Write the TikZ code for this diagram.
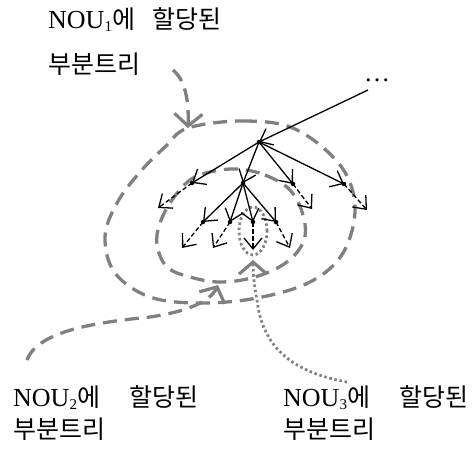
\documentclass[tikz,border=0pt]{standalone}
\usepackage{fontspec}
\setmainfont{Liberation Serif}
\newfontfamily\kr{Noto Sans CJK KR}
\newfontfamily\lat{Liberation Serif}
\usetikzlibrary{arrows.meta}
\definecolor{gcol}{RGB}{128,128,128}
\newcommand\lsub[1]{\raisebox{-3pt}{\fontsize{15}{15}\selectfont\lat #1}}
\newcommand\latbig{\fontsize{26}{30}\selectfont\lat}
\newcommand\krbig{\fontsize{25}{29}\selectfont\kr}
\begin{document}
\begin{tikzpicture}[x=1pt,y=-1pt,
  dot/.style={circle,fill=black,inner sep=0pt,minimum size=4.5pt},
  tree/.style={line width=1.3pt,-{Straight Barb[length=11pt,width=18pt,line width=1.3pt]}},
  subarr/.style={tree,dash pattern=on 4.5pt off 2.5pt},
  gdash/.style={draw=gcol,line width=3.3pt,dash pattern=on 14pt off 8pt},
  gdot/.style={draw=gcol,line width=2.8pt,dash pattern=on 2.5pt off 2.7pt},
  garrow/.style={-{Straight Barb[length=12pt,width=28pt,line width=3.2pt]}},
  lbl/.style={anchor=base west,inner sep=0pt}]
\useasboundingbox (0,0) rectangle (474,451);

% labels
\node[lbl] (l1a) at (48,28)  {\latbig NOU\lsub{1}{\krbig 에}};
\node[lbl] (l1b) at (152,28) {\krbig 할당된};
\node[lbl] (l1c) at (48,73)  {\krbig 부분트리};
\node[lbl] (l2a) at (13,406) {\latbig NOU\lsub{2}{\krbig 에}};
\node[lbl] (l2b) at (129,406) {\krbig 할당된};
\node[lbl] (l2c) at (13,438) {\krbig 부분트리};
\node[lbl] (l3a) at (283,406) {\latbig NOU\lsub{3}{\krbig 에}};
\node[lbl] (l3b) at (399,406) {\krbig 할당된};
\node[lbl] (l3c) at (283,438) {\krbig 부분트리};

% gray loops
\draw[gdash] plot[smooth cycle, tension=0.6] coordinates {
  (188,128) (243,121) (295,129) (340,165) (355,207) (343,253) (310,282)
  (257,298) (200,303) (150,297) (115,273) (105,237) (117,203) (140,172) (166,146)};
\draw[gdash] plot[smooth cycle, tension=0.6] coordinates {
  (237,169) (265,175) (290,190) (303,215) (304,240) (287,262) (255,277)
  (220,282) (190,277) (167,267) (157,245) (160,223) (172,200) (190,180) (210,172)};
\draw[gdot] (253,231) ellipse [x radius=14pt, y radius=24pt];

% label connectors
\coordinate (n1s) at (173,70);
\coordinate (n1e) at (188,128);
\coordinate (n2s) at (27,360);
\coordinate (n2m) at (150,317);
\coordinate (n2e) at (218,285);
\coordinate (n3s) at (347,382);
\coordinate (n3m) at (257,300);
\coordinate (n3e) at (253,260);
\draw[gdash,garrow] (n1s) .. controls (185,80) and (189,100) .. (n1e);
\draw[gdash,garrow] (n2s) .. controls (38,330) and (100,322) .. (n2m)
  .. controls (185,312) and (210,302) .. (n2e);
\draw[gdot,garrow] (n3s) .. controls (290,372) and (262,345) .. (n3m)
  .. controls (254,285) and (253,272) .. (n3e);

% tree
\node[inner sep=0pt] (dots) at (377,80) {\latbig\ldots};
\coordinate (top) at (368,90);
\node[dot] (R) at (259,142) {};
\node[dot] (A) at (192,183) {};
\node[dot] (B) at (243,183) {};
\node[dot] (C) at (293,184) {};
\node[dot] (D) at (344,184) {};
\node[dot] (E) at (203,222) {};
\node[dot] (F) at (230,222) {};
\node[dot] (G) at (253,222) {};
\node[dot] (H) at (276,222) {};
\coordinate (a1) at (158,208);
\coordinate (c1) at (312,209);
\coordinate (d1) at (367,210);
\coordinate (e1) at (182,248);
\coordinate (f1) at (213,248);
\coordinate (g1) at (253,250);
\coordinate (h1) at (290,248);

\draw[tree] (top) -- (R.center);
\foreach \c in {A,B,C,D} \draw[tree] (R.center) -- (\c.center);
\foreach \c in {E,F,G,H} \draw[tree] (B.center) -- (\c.center);
\draw[subarr] (A.center) -- (a1);
\draw[subarr] (C.center) -- (c1);
\draw[subarr] (D.center) -- (d1);
\draw[subarr] (E.center) -- (e1);
\draw[subarr] (F.center) -- (f1);
\draw[subarr] (G.center) -- (g1);
\draw[subarr] (H.center) -- (h1);
\end{tikzpicture}
\end{document}
